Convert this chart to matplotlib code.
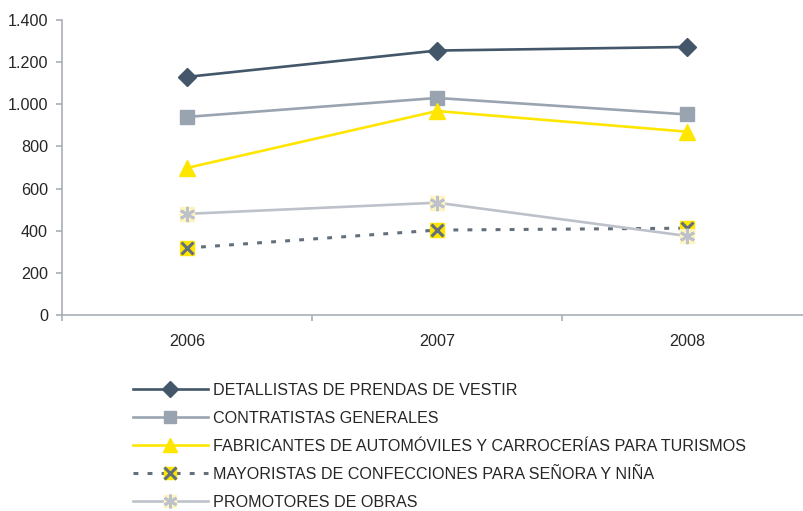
import matplotlib
matplotlib.use("Agg")
import matplotlib.pyplot as plt
from matplotlib.ticker import FuncFormatter, FixedLocator
from matplotlib.legend_handler import HandlerTuple

plt.rcParams['font.family'] = ['Liberation Sans', 'DejaVu Sans']

years = ["2006", "2007", "2008"]
detallistas = [1130, 1255, 1272]
contratistas = [940, 1030, 952]
fabricantes = [698, 968, 870]
mayoristas = [318, 403, 412]
promotores = [480, 533, 375]

labels = [
    "DETALLISTAS DE PRENDAS DE VESTIR",
    "CONTRATISTAS GENERALES",
    "FABRICANTES DE AUTOMÓVILES Y CARROCERÍAS PARA TURISMOS",
    "MAYORISTAS DE CONFECCIONES PARA SEÑORA Y NIÑA",
    "PROMOTORES DE OBRAS",
]

W, H = 804, 511
fig = plt.figure(figsize=(W / 100, H / 100), dpi=100)
ax = fig.add_axes([62 / W, 1 - 315 / H, (812 - 62) / W, (315 - 20) / H])

x = list(range(len(years)))
lw = 1.9
ms = 10
fs = 11.6

h1, = ax.plot(x, detallistas, color="#43566a", lw=lw, marker="D", ms=9,
              mfc="#43566a", mec="#43566a", zorder=5)
h2, = ax.plot(x, contratistas, color="#9aa4b0", lw=lw, marker="s", ms=ms,
              mfc="#9aa4b0", mec="#9aa4b0", zorder=4)
h3, = ax.plot(x, fabricantes, color="#ffe600", lw=lw, marker="^", ms=11,
              mfc="#ffe600", mec="#ffe600", zorder=4)
h4a, = ax.plot(x, mayoristas, color="#646f7c", lw=2.2, ls=(0, (1.6, 3.0)),
               marker="s", ms=ms, mfc="#ffe600", mec="#ffe600", zorder=3)
h4b, = ax.plot(x, mayoristas, ls="none", marker="x", ms=ms - 1, mew=2.2,
               mec="#646f7c", zorder=3.1)
h5a, = ax.plot(x, promotores, color="#bdc2ca", lw=lw, marker="s", ms=ms,
               mfc="#fff3bf", mec="#fff3bf", zorder=6)
h5b, = ax.plot(x, promotores, ls="none", marker=(6, 2, 0), ms=ms + 1, mew=2,
               mec="#bdc2ca", zorder=6.1)

ax.set_xlim(-0.5, 2.5)
ax.set_ylim(0, 1400)
ax.set_yticks(range(0, 1401, 200))
ax.yaxis.set_major_formatter(FuncFormatter(lambda v, p: f"{int(v):,}".replace(",", ".")))
ax.set_xticks(x)
ax.set_xticklabels(years)
ax.xaxis.set_minor_locator(FixedLocator([-0.5, 0.5, 1.5, 2.5]))

axis_col = "#a9aeb6"
for s in ["top", "right"]:
    ax.spines[s].set_visible(False)
for s in ["left", "bottom"]:
    ax.spines[s].set_color(axis_col)
    ax.spines[s].set_linewidth(1.2)

ax.tick_params(axis="y", direction="out", length=4, color=axis_col, width=1.2,
               labelsize=fs, labelcolor="#262626", pad=6)
ax.tick_params(axis="x", which="major", length=0, labelsize=fs,
               labelcolor="#262626", pad=14)
ax.tick_params(axis="x", which="minor", direction="out", length=4,
               color=axis_col, width=1.2)

leg = fig.legend(
    [h1, h2, h3, (h4a, h4b), (h5a, h5b)], labels,
    handler_map={tuple: HandlerTuple(ndivide=1)},
    loc="upper left", bbox_to_anchor=(133 / W, 1 - 383 / H),
    frameon=False, fontsize=fs, handlelength=4.65, handletextpad=0.3,
    labelspacing=0.8, borderpad=0, borderaxespad=0, labelcolor="#262626",
    markerscale=0.9,
)

fig.savefig("out.png", dpi=100)
